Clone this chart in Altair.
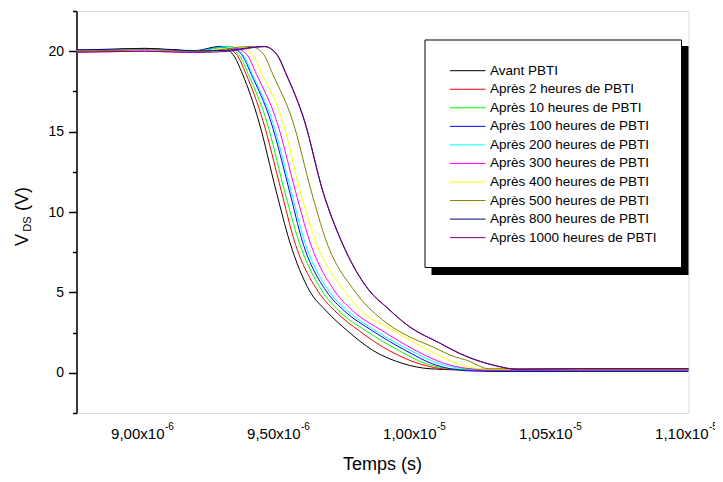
import altair as alt
import pandas as pd

# ---------------- data ----------------
series_names = [
    "Avant PBTI",
    "Après 2 heures de PBTI",
    "Après 10 heures de PBTI",
    "Après 100 heures de PBTI",
    "Après 200 heures de PBTI",
    "Après 300 heures de PBTI",
    "Après 400 heures de PBTI",
    "Après 500 heures de PBTI",
    "Après 800 heures de PBTI",
    "Après 1000 heures de PBTI",
]
series_colors = ["#000000", "#FF0000", "#00FF00", "#0000FF", "#00FFFF",
                 "#FF00FF", "#FFFF00", "#808000", "#000080", "#800080"]

# time in microseconds, V_DS in volts
t_avant = [8.75, 8.88, 9.00, 9.10, 9.18, 9.278, 9.325, 9.361, 9.420, 9.484, 9.533, 9.607, 9.668, 9.747, 9.839, 9.950, 10.05, 10.20, 10.60, 11.00]
v_avant = [20.05, 20.10, 20.15, 20.08, 20.02, 20.30, 19.80, 18.55, 15.65, 11.30, 8.20, 5.09, 3.85, 2.60, 1.40, 0.58, 0.25, 0.17, 0.17, 0.17]

t_2h = [8.75, 8.88, 9.00, 9.10, 9.18, 9.291, 9.338, 9.374, 9.436, 9.503, 9.551, 9.637, 9.700, 9.790, 9.901, 10.011, 10.121, 10.30, 10.60, 11.00]
v_2h = [20.00, 20.05, 20.10, 20.05, 20.00, 20.25, 19.80, 18.55, 15.65, 11.30, 8.20, 5.09, 3.85, 2.60, 1.37, 0.56, 0.22, 0.18, 0.18, 0.18]

t_10h = [8.75, 8.88, 9.00, 9.10, 9.18, 9.299, 9.346, 9.382, 9.449, 9.515, 9.567, 9.653, 9.715, 9.815, 9.937, 10.036, 10.158, 10.30, 10.60, 11.00]
v_10h = [20.05, 20.10, 20.12, 20.05, 20.00, 20.25, 19.80, 18.55, 15.65, 11.30, 8.20, 5.09, 3.85, 2.60, 1.37, 0.56, 0.22, 0.20, 0.20, 0.20]

t_100h = [8.75, 8.88, 9.00, 9.10, 9.18, 9.310, 9.357, 9.393, 9.464, 9.533, 9.580, 9.668, 9.735, 9.839, 9.962, 10.059, 10.195, 10.30, 10.60, 11.00]
v_100h = [20.08, 20.12, 20.15, 20.08, 20.02, 20.30, 19.80, 18.55, 15.65, 11.30, 8.20, 5.09, 3.85, 2.60, 1.37, 0.56, 0.12, 0.08, 0.08, 0.08]

t_200h = [8.75, 8.88, 9.00, 9.10, 9.18, 9.314, 9.361, 9.397, 9.470, 9.539, 9.588, 9.678, 9.747, 9.852, 9.980, 10.085, 10.213, 10.35, 10.60, 11.00]
v_200h = [20.05, 20.10, 20.12, 20.05, 20.00, 20.30, 19.80, 18.55, 15.65, 11.30, 8.20, 5.09, 3.85, 2.60, 1.37, 0.56, 0.22, 0.20, 0.20, 0.20]

t_300h = [8.75, 8.88, 9.00, 9.10, 9.18, 9.329, 9.376, 9.412, 9.486, 9.555, 9.607, 9.699, 9.766, 9.876, 9.999, 10.107, 10.232, 10.35, 10.60, 11.00]
v_300h = [19.94, 19.97, 20.00, 19.95, 19.92, 20.20, 19.80, 18.55, 15.65, 11.30, 8.20, 5.09, 3.85, 2.60, 1.37, 0.56, 0.22, 0.20, 0.20, 0.20]

t_400h = [8.75, 8.88, 9.00, 9.10, 9.20, 9.350, 9.397, 9.433, 9.508, 9.572, 9.629, 9.735, 9.797, 9.913, 10.011, 10.10, 10.16, 10.27, 10.60, 11.00]
v_400h = [20.05, 20.10, 20.12, 20.05, 20.00, 20.25, 19.80, 18.55, 15.65, 11.30, 8.20, 5.09, 3.85, 2.66, 1.70, 0.95, 0.50, 0.22, 0.22, 0.22]

t_500h = [8.75, 8.88, 9.00, 9.10, 9.22, 9.390, 9.438, 9.472, 9.545, 9.613, 9.668, 9.772, 9.876, 9.950, 10.059, 10.140, 10.183, 10.268, 10.60, 11.00]
v_500h = [20.00, 20.05, 20.10, 20.05, 20.00, 20.30, 19.80, 18.55, 15.65, 11.30, 8.20, 5.09, 3.28, 2.45, 1.62, 1.00, 0.79, 0.25, 0.25, 0.25]

t_800h = [8.75, 8.88, 9.00, 9.10, 9.20, 9.30, 9.440, 9.486, 9.521, 9.588, 9.655, 9.723, 9.827, 9.888, 9.974, 10.085, 10.158, 10.293, 10.368, 10.60, 11.00]
v_800h = [20.08, 20.12, 20.18, 20.10, 20.02, 20.05, 20.30, 19.80, 18.55, 15.65, 11.30, 8.20, 5.09, 4.10, 2.86, 1.85, 1.20, 0.43, 0.22, 0.25, 0.25]

t_1000h = [8.75, 8.88, 9.00, 9.10, 9.20, 9.30, 9.441, 9.487, 9.522, 9.589, 9.656, 9.724, 9.828, 9.889, 9.975, 10.086, 10.160, 10.295, 10.370, 10.60, 11.00]
v_1000h = [19.94, 19.97, 20.00, 19.96, 19.93, 19.98, 20.28, 19.80, 18.55, 15.65, 11.30, 8.20, 5.09, 4.10, 2.86, 1.85, 1.20, 0.43, 0.22, 0.25, 0.25]

series_t = [t_avant, t_2h, t_10h, t_100h, t_200h, t_300h, t_400h, t_500h, t_800h, t_1000h]
series_v = [v_avant, v_2h, v_10h, v_100h, v_200h, v_300h, v_400h, v_500h, v_800h, v_1000h]

x_tick_vals = [8.75, 9.0, 9.25, 9.5, 9.75, 10.0, 10.25, 10.5, 10.75, 11.0]
x_label_vals = [9.0, 9.5, 10.0, 10.5, 11.0]
x_label_base = ["9,00x10", "9,50x10", "1,00x10", "1,05x10", "1,10x10"]
x_label_exp = ["-6", "-6", "-5", "-5", "-5"]
y_tick_vals = [-2.5, 0, 2.5, 5, 7.5, 10, 12.5, 15, 17.5, 20, 22.5]
x_title = "Temps (s)"
y_title_parts = ["V", "DS", "(V)"]

# ---------------- build tables ----------------
rows = []
for k, (name, ts, vs) in enumerate(zip(series_names, series_t, series_v)):
    for t, v in zip(ts, vs):
        rows.append({"series": name, "k": k, "t": t, "v": v})
df = pd.DataFrame(rows)
leg_df = pd.DataFrame({"series": series_names, "idx": list(range(len(series_names)))})
lab_df = pd.DataFrame({"tv": x_label_vals, "base": x_label_base, "exp": x_label_exp})
one = pd.DataFrame({"a": [0]})

W, H = 612, 402
FONT = "Liberation Sans"

xscale = alt.Scale(domain=[8.75, 11.0], nice=False, zero=False)
yscale = alt.Scale(domain=[-2.5, 22.5], nice=False, zero=False)
cscale = alt.Scale(domain=series_names, range=series_colors)

lines = alt.Chart(df).mark_line(strokeWidth=1, interpolate="monotone").encode(
    x=alt.X("t:Q", scale=xscale, axis=alt.Axis(
        values=x_tick_vals, labels=False, title=None, grid=False,
        tickSize={"condition": {"test": "datum.value % 0.5 == 0", "value": 8}, "value": 4},
        tickWidth=1.5, domainWidth=1.5, tickColor="black", domainColor="black")),
    y=alt.Y("v:Q", scale=yscale, axis=alt.Axis(
        values=y_tick_vals, title=None, grid=False,
        labelExpr="datum.value % 5 == 0 ? format(datum.value, 'd') : ''",
        labelFontSize=14, labelFont=FONT, labelColor="black", labelPadding=5,
        tickSize={"condition": {"test": "datum.value % 5 == 0", "value": 8}, "value": 4},
        tickWidth=1.5, domainWidth=1.5, tickColor="black", domainColor="black")),
    color=alt.Color("series:N", scale=cscale, legend=None),
    detail="k:N",
)

xlab_base = alt.Chart(lab_df).mark_text(align="right", baseline="alphabetic", dx=20,
                                        fontSize=15, font=FONT, color="black").encode(
    x=alt.X("tv:Q", scale=xscale, axis=None), y=alt.value(H + 26), text="base:N")
xlab_exp = alt.Chart(lab_df).mark_text(align="left", baseline="alphabetic", dx=20.5,
                                       fontSize=10, font=FONT, color="black").encode(
    x=alt.X("tv:Q", scale=xscale, axis=None), y=alt.value(H + 17), text="exp:N")

xtitle = alt.Chart(one).mark_text(text=x_title, align="center", baseline="alphabetic",
                                  fontSize=18, font=FONT, color="black").encode(
    x=alt.value(W / 2), y=alt.value(H + 57))

yt_v = alt.Chart(one).mark_text(text=y_title_parts[0], angle=270, align="center", baseline="alphabetic",
                                fontSize=18, font=FONT, color="black").encode(
    x=alt.value(-49), y=alt.value(229))
yt_ds = alt.Chart(one).mark_text(text=y_title_parts[1], angle=270, align="center", baseline="alphabetic",
                                 fontSize=11, font=FONT, color="black").encode(
    x=alt.value(-46), y=alt.value(213))
yt_p = alt.Chart(one).mark_text(text=y_title_parts[2], angle=270, align="center", baseline="alphabetic",
                                fontSize=18, font=FONT, color="black").encode(
    x=alt.value(-49), y=alt.value(188))

shadow = alt.Chart(one).mark_rect(color="black").encode(
    x=alt.value(355), x2=alt.value(612), y=alt.value(35), y2=alt.value(264))
box = alt.Chart(one).mark_rect(fill="white", stroke="black", strokeWidth=1).encode(
    x=alt.value(348.5), x2=alt.value(605), y=alt.value(29), y2=alt.value(256.5))

leg_base = alt.Chart(leg_df).transform_calculate(ly="59.7 + datum.idx * 18.55")
leg_lines = leg_base.mark_rule(strokeWidth=1).encode(
    x=alt.value(373.5), x2=alt.value(409),
    y=alt.Y("ly:Q", scale=None, axis=None),
    color=alt.Color("series:N", scale=cscale, legend=None))
leg_text = leg_base.mark_text(align="left", baseline="middle", fontSize=13.5, font=FONT, color="black").encode(
    x=alt.value(413.5), y=alt.Y("ly:Q", scale=None, axis=None), text="series:N")

chart = alt.layer(
    lines, xlab_base, xlab_exp, xtitle, yt_v, yt_ds, yt_p, shadow, box, leg_lines, leg_text
).properties(
    width=W, height=H,
    autosize=alt.AutoSizeParams(type="none"),
    padding={"left": 68.5, "top": 3, "right": 26, "bottom": 61},
).configure_view(
    stroke="black", strokeWidth=1.5
).configure(background="white")

chart.save("out.html", embed_options={"renderer": "svg", "actions": False})
